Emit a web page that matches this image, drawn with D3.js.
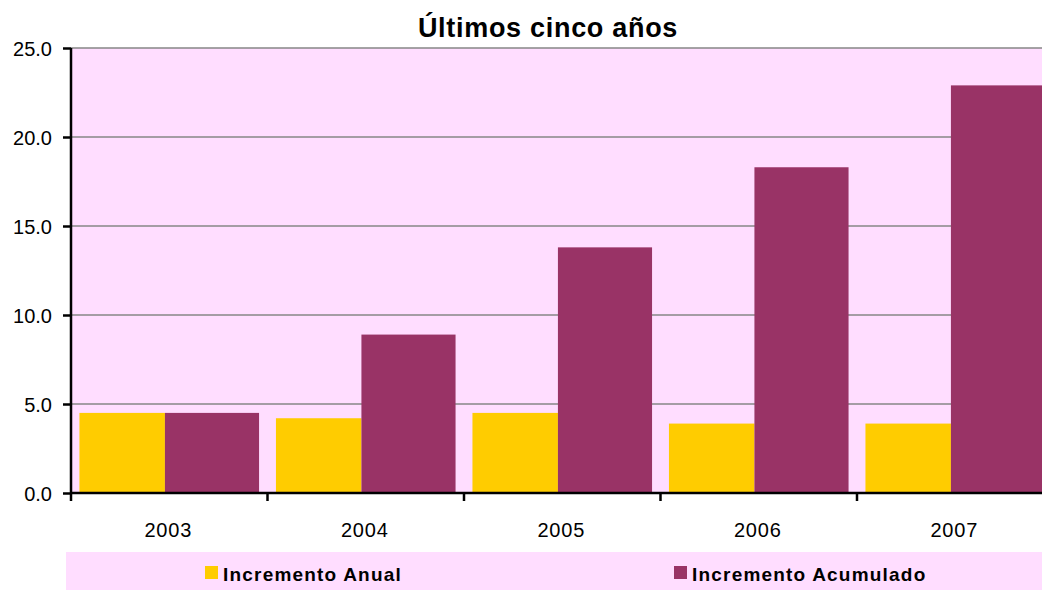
<!DOCTYPE html>
<html><head><meta charset="utf-8">
<script src="https://cdn.jsdelivr.net/npm/d3@7"></script>
<style>
html,body{margin:0;padding:0;background:#fff;}
svg{display:block;font-family:"Liberation Sans",Arial,sans-serif;}
</style></head>
<body>
<svg id="chart" width="1042" height="590"></svg>
<script>
const title = "Últimos cinco años";
const years = ["2003","2004","2005","2006","2007"];
const seriesNames = ["Incremento Anual","Incremento Acumulado"];
const anual = [4.5, 4.2, 4.5, 3.9, 3.9];
const acumulado = [4.5, 8.9, 13.8, 18.3, 22.9];
const yTicks = [0, 5, 10, 15, 20, 25];
const colors = ["#FFCC00", "#993366"];

const svg = d3.select("#chart");
const W = 1042, H = 590;
const plot = {left: 71, top: 48, bottom: 493, right: 1053.5};

const x = d3.scaleBand().domain(years).range([plot.left, plot.right]).padding(0);
const y = d3.scaleLinear().domain([0, 25]).range([plot.bottom, plot.top]);
// bar slots within a category, as fractions of the band
const slot = d3.scaleLinear().domain([0, 1]).range([0, x.bandwidth()]);
const slots = [[0.043, 0.478], [0.478, 0.957]];

// plot background
svg.append("rect").attr("x", plot.left).attr("y", plot.top)
  .attr("width", W - plot.left).attr("height", plot.bottom - plot.top)
  .attr("fill", "#FFDDFF");

// gridlines
svg.append("g").selectAll("line").data(yTicks.filter(d => d > 0)).join("line")
  .attr("x1", plot.left).attr("x2", W)
  .attr("y1", d => y(d)).attr("y2", d => y(d))
  .attr("stroke", "#868686").attr("stroke-width", 1.5);

// bars
const data = [anual, acumulado];
data.forEach((vals, si) => {
  svg.append("g").selectAll("rect").data(years).join("rect")
    .attr("x", (d) => x(d) + slot(slots[si][0]))
    .attr("width", slot(slots[si][1]) - slot(slots[si][0]))
    .attr("y", (d, i) => y(vals[i]))
    .attr("height", (d, i) => y(0) - y(vals[i]))
    .attr("fill", colors[si]);
});

// y axis
const yAxis = d3.axisLeft(y).tickValues(yTicks).tickFormat(d3.format(".1f"))
  .tickSize(8).tickPadding(11);
const gy = svg.append("g").attr("transform", `translate(${plot.left},0)`).call(yAxis);
gy.select(".domain").attr("stroke", "#000").attr("stroke-width", 2.5)
  .attr("d", `M0,${plot.top}V${plot.bottom}`);
gy.selectAll(".tick line").attr("stroke", "#000").attr("stroke-width", 2.5);
gy.selectAll(".tick text").attr("font-size", 20).attr("fill", "#000")
  .attr("font-family", "Liberation Sans, Arial, sans-serif").attr("dy", "0.35em");

// x axis
const gx = svg.append("g").attr("transform", `translate(0,${plot.bottom})`);
gx.append("line").attr("x1", plot.left).attr("x2", W).attr("y1", 0).attr("y2", 0)
  .attr("stroke", "#000").attr("stroke-width", 2.5);
const bounds = years.map(d => x(d)).concat([plot.right]);
gx.selectAll("line.tk").data(bounds).join("line").attr("class", "tk")
  .attr("x1", d => d).attr("x2", d => d).attr("y1", 0).attr("y2", 8)
  .attr("stroke", "#000").attr("stroke-width", 2.5);
gx.selectAll("text").data(years).join("text")
  .attr("x", d => x(d) + x.bandwidth() / 2 - 1)
  .attr("y", 44)
  .attr("text-anchor", "middle")
  .attr("font-size", 20).attr("letter-spacing", "0.8px")
  .text(d => d);

// title
svg.append("text").attr("x", 548).attr("y", 37).attr("text-anchor", "middle")
  .attr("font-size", 27).attr("font-weight", "bold").attr("letter-spacing", "0.7px")
  .text(title);

// legend
const lg = svg.append("g");
lg.append("rect").attr("x", 66).attr("y", 552).attr("width", W - 66).attr("height", 38)
  .attr("fill", "#FFDDFF");
const legX = [205, 674];
seriesNames.forEach((name, i) => {
  lg.append("rect").attr("x", legX[i]).attr("y", 566).attr("width", 13).attr("height", 13)
    .attr("fill", colors[i]);
  lg.append("text").attr("x", legX[i] + 18).attr("y", 581)
    .attr("font-size", 19).attr("font-weight", "bold").attr("letter-spacing", "1.2px")
    .text(name);
});
</script>
</body></html>
